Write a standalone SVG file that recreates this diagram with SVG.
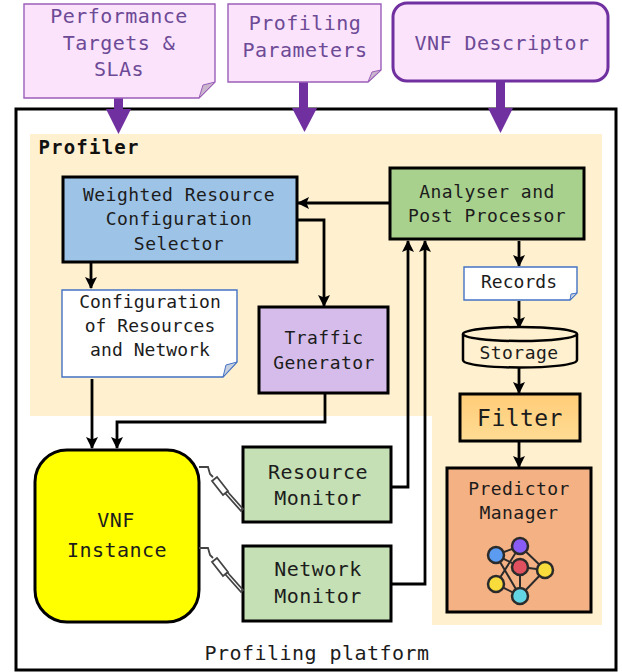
<svg xmlns="http://www.w3.org/2000/svg" width="622" height="672" viewBox="0 0 622 672">
<defs>
<marker id="ah" markerUnits="userSpaceOnUse" markerWidth="13" markerHeight="13" refX="11" refY="6" orient="auto"><path d="M0,0 L12,6 L0,12 L2.500,6 Z" fill="#000"/></marker>
<linearGradient id="fg" x1="0" y1="0" x2="0" y2="1"><stop offset="0" stop-color="#ffcc78"/><stop offset="1" stop-color="#ffdc94"/></linearGradient>
</defs>
<style>
text{font-family:"DejaVu Sans Mono","Liberation Mono",monospace;font-size:18px;letter-spacing:.45px;text-anchor:middle;fill:#1c1c1c}
.l{font-size:20px;letter-spacing:.45px}
.s{font-size:18px;letter-spacing:.05px}
.v{fill:#6d4a96}
.box{stroke:#000;stroke-width:3}
.note{fill:#fff;stroke:#4472c4;stroke-width:1.4}
.pnote{fill:#fbe3fb;stroke:#9a5fb8;stroke-width:1.4}
.fold{fill:#c9b6cc;stroke:#9a5fb8;stroke-width:1}
.fold2{fill:#c6d0de;stroke:#4472c4;stroke-width:1}
.c{fill:none;stroke:#000;stroke-width:2.800;marker-end:url(#ah)}
.big{fill:none;stroke:#7030a0;stroke-width:9}
.bigh{fill:#7030a0}
.probe{fill:none;stroke:#444;stroke-width:1.8}
.nn{stroke:#2b2b2b;stroke-width:2.500}
.nl{stroke:#2b2b2b;stroke-width:2;fill:none}
</style>

<rect id="platform" x="16" y="109" width="600" height="561" fill="#fff" stroke="#000" stroke-width="3"/>
<path id="profiler-area" d="M30,134 H602 V625 H432 V416 H30 Z" fill="#fff0cf"/>
<text x="89" y="154" style="font-weight:bold;letter-spacing:1.200px;fill:#111;font-size:19px">Profiler</text>
<text class="l" x="317" y="660">Profiling platform</text>

<g id="connectors">
<path class="big" d="M118.500,98 V112"/><path class="bigh" d="M106,109 H131 L118.500,134 Z"/>
<path class="big" d="M303.500,82 V112"/><path class="bigh" d="M292,108 H317 L304.500,132 Z"/>
<path class="big" d="M500.500,82 V112"/><path class="bigh" d="M488,108 H513 L500.500,133 Z"/>
<path class="c" d="M389,203 H298"/>
<path class="c" d="M297,220 H324 V306"/>
<path class="c" d="M91,263 V288"/>
<path class="c" d="M92,379 V448"/>
<path class="c" d="M325,394 V422 H117 V448"/>
<path class="c" d="M519,241 V266"/>
<path class="c" d="M519,301 V328"/>
<path class="c" d="M519,368 V393"/>
<path class="c" d="M519,442 V467"/>
<path class="c" d="M392,487 H408 V241"/>
<path class="c" d="M392,584 H425 V241"/>
</g>

<g id="performance-targets">
<path class="pnote" d="M24,4 H215 V82 L199,98 H24 Z"/>
<path class="fold" d="M215,82 L199,98 L203,85 Z"/>
<text class="l v" x="119" y="23">Performance</text><text class="l v" x="119" y="50">Targets &amp;</text><text class="l v" x="119" y="76">SLAs</text>
</g>
<g id="profiling-parameters">
<path class="pnote" d="M228,4 H381 V70 L368,82 H228 Z"/>
<path class="fold" d="M381,70 L368,82 L372,72 Z"/>
<text class="l v" x="305" y="30">Profiling</text><text class="l v" x="305" y="57">Parameters</text>
</g>
<g id="vnf-descriptor">
<rect x="393" y="3" width="215" height="78" rx="14" fill="#fbe3fb" stroke="#7030a0" stroke-width="3"/>
<text class="l v" x="502" y="50">VNF Descriptor</text>
</g>

<g id="selector">
<rect class="box" x="63" y="177" width="234" height="85" fill="#9dc3e6"/>
<text x="179" y="201">Weighted Resource</text><text x="179" y="225">Configuration</text><text x="179" y="250">Selector</text>
</g>
<g id="analyser">
<rect class="box" x="390" y="168" width="194" height="71" fill="#a9d18e"/>
<text x="487" y="198">Analyser and</text><text x="487" y="222">Post Processor</text>
</g>
<g id="records">
<path class="note" d="M464,267 H577 V293 L570,300 H464 Z"/>
<path class="fold2" d="M577,293 L570,300 L571,294 Z"/>
<text class="s" x="519" y="288">Records</text>
</g>
<g id="configuration">
<path class="note" d="M62,290 H237 V362 L223,377 H62 Z"/>
<path class="fold2" d="M237,362 L223,377 L226,365 Z"/>
<text class="s" x="150" y="308">Configuration</text><text class="s" x="150" y="332">of Resources</text><text class="s" x="150" y="356">and Network</text>
</g>
<g id="traffic-generator">
<rect class="box" x="259" y="307" width="129" height="86" fill="#d5bcea"/>
<text x="324" y="344">Traffic</text><text x="324" y="369">Generator</text>
</g>
<g id="storage">
<path d="M463,334 V360 C463,370 577,370 577,360 V334" fill="#fff0cf" stroke="#000" stroke-width="2.500"/>
<ellipse cx="520" cy="334" rx="57" ry="7" fill="#fff0cf" stroke="#000" stroke-width="2.500"/>
<text x="519" y="359">Storage</text>
</g>
<g id="filter">
<rect class="box" x="460" y="394" width="120" height="47" fill="url(#fg)"/>
<text x="520" y="426" style="font-size:23px;letter-spacing:.45px">Filter</text>
</g>
<g id="predictor-manager">
<rect class="box" x="447" y="468" width="144" height="144" fill="#f4b183"/>
<text x="519" y="495">Predictor</text><text x="519" y="519">Manager</text>
<path class="nl" d="M496,555 L520,546 M496,555 L520,596 M496,555 L520,567 M520,546 L496,584 M520,546 L545,570 M520,567 L545,570 M520,567 L520,596 M496,584 L520,596 M545,570 L520,596"/>
<circle class="nn" cx="496" cy="555" r="8" fill="#5b9bf0"/>
<circle class="nn" cx="520" cy="546" r="8" fill="#8a5cf6"/>
<circle class="nn" cx="520" cy="567" r="8" fill="#e0505e"/>
<circle class="nn" cx="545" cy="570" r="8" fill="#f7dc3c"/>
<circle class="nn" cx="496" cy="584" r="8" fill="#f7dc3c"/>
<circle class="nn" cx="520" cy="596" r="8" fill="#63d4e4"/>
</g>
<g id="vnf-instance">
<rect x="35" y="450" width="164" height="172" rx="32" fill="#ffff00" stroke="#000" stroke-width="3"/>
<text class="l" x="116" y="527">VNF</text><text class="l" x="117" y="557">Instance</text>
</g>
<g id="resource-monitor">
<rect class="box" x="243" y="447" width="148" height="75" fill="#c5e0b4"/>
<text class="l" x="318" y="479">Resource</text><text class="l" x="318" y="505">Monitor</text>
</g>
<g id="network-monitor">
<rect class="box" x="243" y="546" width="148" height="75" fill="#c5e0b4"/>
<text class="l" x="318" y="576">Network</text><text class="l" x="318" y="603">Monitor</text>
</g>
<g id="probes">
<path class="probe" d="M199,467 H208 L210,474 L213,477 M225,493 L241,511 L243,509 L227,491"/>
<path class="probe" d="M212,481 L217,477 L228,491 L223,495 Z"/>
<path class="probe" d="M199,548 H208 L210,555 L213,558 M225,574 L241,592 L243,590 L227,572"/>
<path class="probe" d="M212,562 L217,558 L228,572 L223,576 Z"/>
</g>
</svg>
